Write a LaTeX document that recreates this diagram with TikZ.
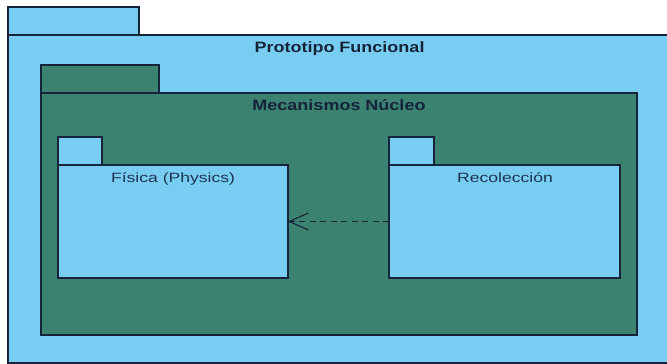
\documentclass[tikz,border=0pt]{standalone}
\usepackage{fontspec}
\usepackage{graphicx}
\setmainfont{Liberation Sans}
\usetikzlibrary{arrows.meta}
\definecolor{pkgblue}{HTML}{79CDF3}
\definecolor{pkggreen}{HTML}{3B8271}
\definecolor{edgecol}{HTML}{16243A}
\definecolor{txtcol}{HTML}{1E3452}
\tikzset{
  pkg/.style={draw=edgecol, line width=1.3pt, rectangle, inner sep=0pt, outer sep=0pt},
  bluepkg/.style={pkg, fill=pkgblue},
  greenpkg/.style={pkg, fill=pkggreen},
  titlelbl/.style={inner sep=0pt, anchor=base, text=edgecol, font=\fontsize{15}{15}\selectfont\bfseries},
  namelbl/.style={inner sep=0pt, anchor=base, text=txtcol, font=\fontsize{13.5}{13.5}\selectfont},
  dep/.style={draw=edgecol, line width=1.1pt, dash pattern=on 6pt off 4.5pt, -{Straight Barb[length=19pt,width=17pt,line width=1.1pt]}}
}
\begin{document}
\begin{tikzpicture}[x=1pt,y=-1pt]
\useasboundingbox (0,0) rectangle (667,364);
\clip (0,0) rectangle (667,364);
\fill[white] (0,0) rectangle (667,364);
% outer package
\node[bluepkg, minimum width=131pt, minimum height=28pt] (protab) at (73.5,21) {};
\node[bluepkg, minimum width=672pt, minimum height=328pt] (proto) at (344,199) {};
\node[titlelbl] (protolbl) at (339.5,52.5) {\scalebox{1.2}[1]{Prototipo Funcional}};
% inner package
\node[greenpkg, minimum width=118pt, minimum height=28pt] (mectab) at (100,79) {};
\node[greenpkg, minimum width=596pt, minimum height=242pt] (mec) at (339,214) {};
\node[titlelbl] (meclbl) at (339,110) {\scalebox{1.2}[1]{Mecanismos Núcleo}};
% Fisica
\node[bluepkg, minimum width=44pt, minimum height=28pt] (fistab) at (80,151) {};
\node[bluepkg, minimum width=230pt, minimum height=113pt] (fis) at (173,221.5) {};
\node[namelbl] (fislbl) at (173,182) {\scalebox{1.3}[1]{Física (Physics)}};
% Recoleccion
\node[bluepkg, minimum width=45pt, minimum height=28pt] (rectab) at (411.5,151) {};
\node[bluepkg, minimum width=231pt, minimum height=113pt] (rec) at (504.5,221.5) {};
\node[namelbl] (reclbl) at (505,182) {\scalebox{1.3}[1]{Recolección}};
% dependency
\draw[dep] (rec.west) -- (fis.east);
\end{tikzpicture}
\end{document}
